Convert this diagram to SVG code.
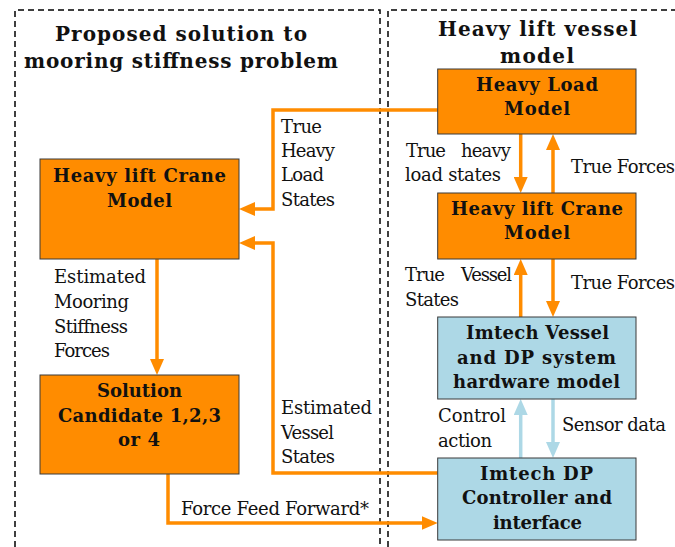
<svg xmlns="http://www.w3.org/2000/svg" width="675" height="547" viewBox="0 0 675 547">
  <style>
    text { font-family: "DejaVu Serif", "Liberation Serif", serif; fill: #111; }
    .title { font-size: 20px; font-weight: bold; }
    .node-label { font-size: 18px; font-weight: bold; }
    .edge-label { font-size: 18px; }
    .frame { fill: none; stroke: #000; stroke-width: 1.5; stroke-dasharray: 6 4; }
    .box-orange { fill: #FF8C00; stroke: #3a3a3a; stroke-width: 1; }
    .box-blue { fill: #ADD8E6; stroke: #3a3a3a; stroke-width: 1; }
    .wire-orange { fill: none; stroke: #FF8C00; stroke-width: 3.5; stroke-linejoin: miter; marker-end: url(#head-orange); }
    .wire-blue { fill: none; stroke: #ADD8E6; stroke-width: 3.5; marker-end: url(#head-blue); }
  </style>
  <defs>
    <marker id="head-orange" viewBox="0 0 16 14" refX="1" refY="7" markerWidth="16" markerHeight="14" markerUnits="userSpaceOnUse" orient="auto">
      <path d="M0,0 L16,7 L0,14 Z" fill="#FF8C00"/>
    </marker>
    <marker id="head-blue" viewBox="0 0 16 14" refX="1" refY="7" markerWidth="16" markerHeight="14" markerUnits="userSpaceOnUse" orient="auto">
      <path d="M0,0 L16,7 L0,14 Z" fill="#ADD8E6"/>
    </marker>
  </defs>

  <rect x="0" y="0" width="675" height="547" fill="#ffffff"/>

  <!-- dashed frames of the two areas -->
  <g id="frames">
    <path class="frame" d="M15,547 V10 H380 V547"/>
    <path class="frame" d="M388,547 V10 H675"/>
  </g>

  <!-- area titles -->
  <g id="titles">
    <text class="title" x="55" y="41" textLength="252" lengthAdjust="spacing">Proposed solution to</text>
    <text class="title" x="24" y="68" textLength="314" lengthAdjust="spacing">mooring stiffness problem</text>
    <text class="title" x="438" y="36" textLength="199" lengthAdjust="spacing">Heavy lift vessel</text>
    <text class="title" x="500" y="63" textLength="74" lengthAdjust="spacing">model</text>
  </g>

  <!-- connectors -->
  <g id="connectors">
    <path class="wire-orange" d="M437.7,110 H273 V209 H254"/>
    <path class="wire-orange" d="M437.7,473 H273 V243 H254"/>
    <path class="wire-orange" d="M157,259 V360"/>
    <path class="wire-orange" d="M168,474 V523 H422.7"/>
    <path class="wire-orange" d="M520.7,134 V178"/>
    <path class="wire-orange" d="M553,193 V149"/>
    <path class="wire-orange" d="M520.7,317 V274"/>
    <path class="wire-orange" d="M553,259 V302"/>
    <path class="wire-blue" d="M520.7,458 V414"/>
    <path class="wire-blue" d="M553,399 V443"/>
  </g>

  <!-- connector labels -->
  <g id="connector-labels">
    <text class="edge-label" x="281" y="133" textLength="41" lengthAdjust="spacing">True</text>
    <text class="edge-label" x="281" y="157" textLength="54" lengthAdjust="spacing">Heavy</text>
    <text class="edge-label" x="281" y="181" textLength="43" lengthAdjust="spacing">Load</text>
    <text class="edge-label" x="281" y="206" textLength="54" lengthAdjust="spacing">States</text>

    <text class="edge-label" x="54" y="283" textLength="92" lengthAdjust="spacing">Estimated</text>
    <text class="edge-label" x="54" y="307.5" textLength="75" lengthAdjust="spacing">Mooring</text>
    <text class="edge-label" x="54" y="332.5" textLength="74" lengthAdjust="spacing">Stiffness</text>
    <text class="edge-label" x="54" y="357" textLength="56" lengthAdjust="spacing">Forces</text>

    <text class="edge-label" x="281" y="414" textLength="91" lengthAdjust="spacing">Estimated</text>
    <text class="edge-label" x="281" y="439" textLength="53" lengthAdjust="spacing">Vessel</text>
    <text class="edge-label" x="281" y="463" textLength="54" lengthAdjust="spacing">States</text>

    <text class="edge-label" x="181" y="515" textLength="188" lengthAdjust="spacing">Force Feed Forward*</text>

    <text class="edge-label" x="406" y="157" textLength="40" lengthAdjust="spacing">True</text>
    <text class="edge-label" x="461" y="157" textLength="50" lengthAdjust="spacing">heavy</text>
    <text class="edge-label" x="405" y="181" textLength="96" lengthAdjust="spacing">load states</text>
    <text class="edge-label" x="571" y="173" textLength="104" lengthAdjust="spacing">True Forces</text>

    <text class="edge-label" x="405" y="281" textLength="40" lengthAdjust="spacing">True</text>
    <text class="edge-label" x="461" y="281" textLength="51" lengthAdjust="spacing">Vessel</text>
    <text class="edge-label" x="405" y="306" textLength="54" lengthAdjust="spacing">States</text>
    <text class="edge-label" x="571" y="289" textLength="104" lengthAdjust="spacing">True Forces</text>

    <text class="edge-label" x="438" y="422" textLength="68" lengthAdjust="spacing">Control</text>
    <text class="edge-label" x="438" y="447" textLength="54" lengthAdjust="spacing">action</text>
    <text class="edge-label" x="562" y="431" textLength="104" lengthAdjust="spacing">Sensor data</text>
  </g>

  <!-- proposed solution side -->
  <g id="crane-model-estimate">
    <rect class="box-orange" x="40" y="159" width="199" height="100"/>
    <text class="node-label" x="53" y="182" textLength="173" lengthAdjust="spacing">Heavy lift Crane</text>
    <text class="node-label" x="107" y="207" textLength="65" lengthAdjust="spacing">Model</text>
  </g>

  <g id="solution-candidate">
    <rect class="box-orange" x="40" y="375" width="199" height="99"/>
    <text class="node-label" x="97" y="397" textLength="85" lengthAdjust="spacing">Solution</text>
    <text class="node-label" x="58" y="422" textLength="163" lengthAdjust="spacing">Candidate 1,2,3</text>
    <text class="node-label" x="118" y="446" textLength="42" lengthAdjust="spacing">or 4</text>
  </g>

  <!-- vessel model side -->
  <g id="heavy-load-model">
    <rect class="box-orange" x="437.7" y="69" width="198.3" height="65"/>
    <text class="node-label" x="476" y="91" textLength="122" lengthAdjust="spacing">Heavy Load</text>
    <text class="node-label" x="504" y="115" textLength="66" lengthAdjust="spacing">Model</text>
  </g>

  <g id="crane-model">
    <rect class="box-orange" x="437.7" y="193" width="198.3" height="66"/>
    <text class="node-label" x="451" y="215" textLength="172" lengthAdjust="spacing">Heavy lift Crane</text>
    <text class="node-label" x="504" y="239" textLength="66" lengthAdjust="spacing">Model</text>
  </g>

  <g id="vessel-hardware-model">
    <rect class="box-blue" x="437.7" y="317" width="198.3" height="82"/>
    <text class="node-label" x="466" y="339" textLength="143" lengthAdjust="spacing">Imtech Vessel</text>
    <text class="node-label" x="457" y="364" textLength="159" lengthAdjust="spacing">and DP system</text>
    <text class="node-label" x="453" y="388" textLength="167" lengthAdjust="spacing">hardware model</text>
  </g>

  <g id="dp-controller">
    <rect class="box-blue" x="437.7" y="458" width="198.3" height="82"/>
    <text class="node-label" x="480" y="480" textLength="113" lengthAdjust="spacing">Imtech DP</text>
    <text class="node-label" x="462" y="504" textLength="150" lengthAdjust="spacing">Controller and</text>
    <text class="node-label" x="493" y="529" textLength="89" lengthAdjust="spacing">interface</text>
  </g>
</svg>
